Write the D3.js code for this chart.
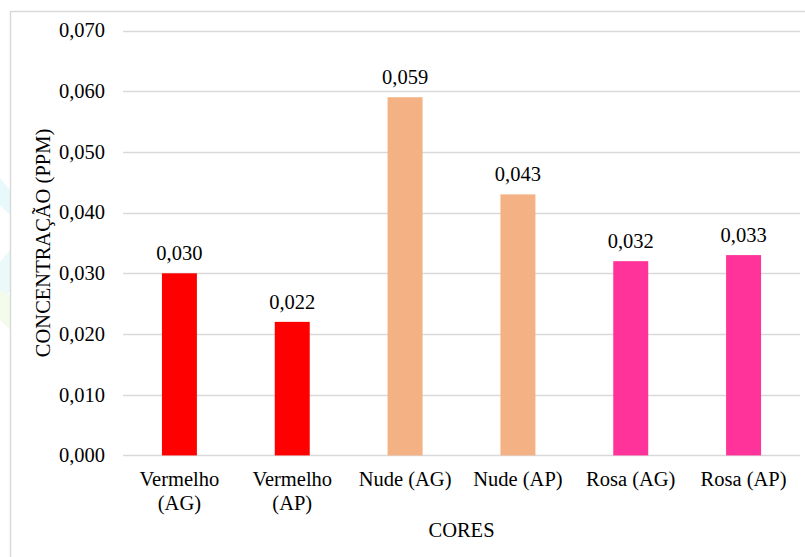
<!DOCTYPE html>
<html>
<head>
<meta charset="utf-8">
<script src="https://cdn.jsdelivr.net/npm/d3@7"></script>
</head>
<body style="margin:0;background:#fff">
<svg id="chart" width="805" height="557" style="display:block"></svg>
<script>
// Concentration by lipstick colour and sample type
const categories = [["Vermelho", "(AG)"], ["Vermelho", "(AP)"], ["Nude (AG)"], ["Nude (AP)"], ["Rosa (AG)"], ["Rosa (AP)"]];
const values = [0.030, 0.022, 0.059, 0.043, 0.032, 0.033];
const barColors = ["#FF0000", "#FF0000", "#F4B183", "#F4B183", "#FF3399", "#FF3399"];
const yTicks = [0, 0.01, 0.02, 0.03, 0.04, 0.05, 0.06, 0.07];
const yTitle = "CONCENTRAÇÃO (PPM)";
const xTitle = "CORES";

const svg = d3.select("#chart");
const W = 805, H = 557;
const plot = { left: 123, right: 800, top: 30.5, bottom: 455.4 };
const fmt = v => d3.format(".3f")(v).replace(".", ",");
const FONT = '"Liberation Serif"';
const BASE = 24;            // font is set at this size...
const K = 20.5 / BASE;      // ...and scaled down to the drawn size

// text helper: places a (possibly multi-line) label at px, py
function label(parent, px, py, lines, anchor, rot) {
  const t = parent.append("text")
    .attr("transform", `translate(${px},${py})${rot ? ` rotate(${rot})` : ""} scale(${K})`)
    .attr("text-anchor", anchor)
    .style("font-family", FONT)
    .style("font-size", BASE + "px")
    .style("fill", "#000");
  [].concat(lines).forEach((ln, j) => {
    t.append("tspan").attr("x", 0).attr("y", j * 24 / K).text(ln);
  });
  return t;
}

// faint decorative shapes at the left edge
const deco = svg.append("g").attr("opacity", 0.35);
deco.append("polygon").attr("points", "0,178 10,190 10,215 0,205").attr("fill", "#bfeff5");
deco.append("polygon").attr("points", "0,262 10,250 10,292 0,300").attr("fill", "#c8f0f2");
deco.append("polygon").attr("points", "0,290 10,296 10,330 0,320").attr("fill", "#dff5c8");

// chart frame
svg.append("rect")
  .attr("x", 10.5).attr("y", 11.5)
  .attr("width", W + 20).attr("height", H + 20)
  .attr("fill", "none").attr("stroke", "#d9d9d9").attr("stroke-width", 1.5);

const x = d3.scaleBand()
  .domain(d3.range(categories.length))
  .range([plot.left, plot.right])
  .paddingInner(0.69).paddingOuter(0.345);

const y = d3.scaleLinear().domain([0, 0.07]).range([plot.bottom, plot.top]);

// gridlines
svg.append("g")
  .selectAll("line").data(yTicks).join("line")
  .attr("x1", plot.left).attr("x2", plot.right)
  .attr("y1", d => Math.round(y(d)) + 0.5).attr("y2", d => Math.round(y(d)) + 0.5)
  .attr("stroke", "#d9d9d9").attr("stroke-width", 1.3);

// y tick labels
const gy = svg.append("g");
yTicks.forEach(v => label(gy, 105, y(v) + 6.8, fmt(v), "end"));

// bars
svg.append("g")
  .selectAll("rect").data(values).join("rect")
  .attr("x", (d, i) => x(i))
  .attr("width", x.bandwidth())
  .attr("y", d => y(d))
  .attr("height", d => y(0) - y(d))
  .attr("fill", (d, i) => barColors[i]);

// value labels
const gv = svg.append("g");
values.forEach((v, i) => label(gv, x(i) + x.bandwidth() / 2, y(v) - 13, fmt(v), "middle"));

// category labels
const gc = svg.append("g");
categories.forEach((c, i) => label(gc, x(i) + x.bandwidth() / 2, 486, c, "middle"));

// axis titles
label(svg, 50, (plot.top + plot.bottom) / 2, yTitle, "middle", -90);
label(svg, (plot.left + plot.right) / 2, 537, xTitle, "middle");
</script>
</body>
</html>
